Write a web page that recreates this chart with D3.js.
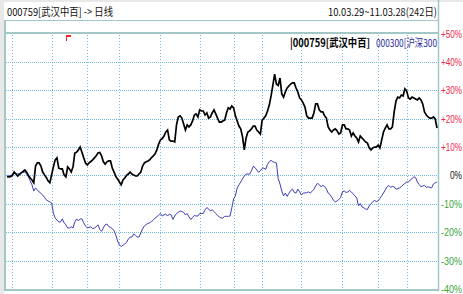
<!DOCTYPE html>
<html lang="zh">
<head>
<meta charset="utf-8">
<title>000759 武汉中百 日线</title>
<script src="https://d3js.org/d3.v7.min.js"></script>
<style>
body { margin: 0; background: #fff; }
svg { display: block; font-family: "Noto Sans CJK SC", "Liberation Sans", sans-serif; }
</style>
</head>
<body>
<script>
// daily change vs. first close, in % (242 trading days)
var stockPct = [
  -0.4,-0.5,-0.4,0,1.2,0.5,-0.2,0.4,0.9,1.4,
  1.9,1.1,0,-0.9,-1.6,-2.6,3.3,4.4,4.4,3.3,
  1.2,0.2,-0.7,-1.9,-2.6,0.2,3.0,5.5,6.2,2.6,
  2.3,2.3,0.2,-0.5,3.0,2.3,1.2,3.0,7.9,8.2,
  9.0,10.0,8.2,6.2,4.4,3.7,4.4,4.9,5.5,6.2,
  6.9,7.9,8.1,6.9,4.8,4.0,4.8,5.1,5.1,2.6,
  1.2,-0.4,-1.2,-2.3,-3.3,-1.6,-0.9,0,0.5,1.2,
  0.5,0.2,-0.2,-0.2,0.5,1.2,3.3,4.4,4.8,5.1,
  5.5,6.3,6.9,7.6,9.0,11.1,12.5,13.0,13.9,15.3,
  16.0,12.5,12.1,12.1,11.8,17.8,20.6,21.0,20.2,18.1,
  16.0,17.8,17.1,17.8,19.2,21.3,21.7,20.6,23.1,22.7,
  22.7,21.3,22.0,20.2,20.6,22.0,23.1,21.7,20.2,18.8,
  18.8,19.2,19.5,22.0,23.8,23.4,24.5,23.8,21.0,19.2,
  17.4,16.4,13.6,9.0,13.2,15.3,15.7,16.4,17.4,17.4,
  16.0,15.3,14.6,19.5,20.2,21.0,22.7,24.8,28.0,31.7,
  35.7,32.2,31.7,34.3,28.7,27.6,29.4,30.8,31.5,32.2,
  32.6,32.6,30.8,29.4,27.3,26.6,25.5,24.1,21.0,20.2,
  20.2,20.2,22.0,25.2,25.2,23.1,22.4,22.4,21.0,20.2,
  17.1,16.0,15.3,16.0,16.4,15.7,14.6,15.0,17.8,17.8,
  16.4,16.4,16.0,13.9,15.0,13.9,13.2,11.8,13.9,13.2,
  12.5,11.8,11.4,9.7,9.0,9.7,10.0,10.0,10.7,9.7,
  12.5,15.3,16.7,17.8,16.4,16.4,17.1,22.4,26.2,27.6,
  27.3,28.3,28.0,30.5,29.8,27.3,26.9,27.6,27.3,26.9,
  26.6,27.3,26.6,25.2,22.4,21.3,20.6,20.2,20.2,20.6,
  19.9,16.7
];
var indexPct = [
  -0.2,-0.2,0,0.2,0.7,0.7,0.5,0.7,0.9,1.1,
  1.2,0.5,-0.5,-1.9,-3.3,-5.5,-4.4,-5.1,-5.8,-6.3,
  -6.9,-7.7,-8.6,-9.0,-9.3,-9.7,-13.2,-15.0,-15.7,-16.4,
  -16.4,-15.3,-16.7,-17.4,-18.5,-18.5,-18.1,-18.5,-16.4,-15.3,
  -16.0,-15.3,-15.3,-16.7,-17.8,-18.5,-18.3,-18.1,-18.7,-18.5,
  -18.1,-17.4,-19.0,-19.7,-18.5,-17.4,-17.1,-18.0,-18.3,-18.7,
  -19.5,-21.0,-23.1,-24.5,-25.0,-24.6,-24.1,-23.6,-22.4,-21.7,
  -21.7,-20.6,-21.1,-21.7,-21.7,-20.2,-18.8,-17.8,-17.3,-16.9,
  -16.7,-16.2,-15.7,-15.0,-14.6,-13.9,-13.4,-14.3,-13.9,-13.6,
  -14.3,-13.6,-13.9,-15.5,-14.3,-13.4,-13.0,-12.5,-12.7,-13.0,
  -13.9,-13.4,-14.6,-15.5,-14.8,-14.1,-14.3,-14.3,-13.4,-13.4,
  -13.4,-12.1,-11.3,-11.8,-12.5,-12.1,-12.7,-13.4,-14.1,-14.6,
  -15.0,-15.0,-14.4,-14.4,-14.4,-14.3,-11.4,-8.3,-7.2,-4.4,
  -3.3,-2.3,-1.2,-0.2,0.5,0.5,0.4,1.6,3.2,2.8,
  1.9,1.1,1.6,2.5,2.6,2.1,3.9,4.9,5.3,4.8,
  4.6,4.4,-1.1,-3.0,-5.5,-7.2,-6.2,-7.4,-6.3,-5.3,
  -4.8,-6.0,-6.2,-4.8,-5.8,-6.9,-6.2,-6.2,-6.0,-5.8,
  -6.2,-5.6,-4.9,-3.7,-2.8,-3.2,-4.0,-3.5,-3.9,-4.8,
  -6.2,-6.7,-7.7,-8.8,-9.3,-9.0,-8.5,-7.7,-5.8,-5.5,
  -6.0,-5.8,-5.3,-5.8,-6.5,-7.2,-7.9,-10.7,-9.9,-11.1,
  -11.4,-11.8,-12.0,-10.7,-9.9,-9.3,-8.8,-9.2,-9.0,-8.1,
  -7.2,-6.2,-5.1,-4.0,-3.5,-4.2,-3.9,-4.0,-4.9,-4.6,
  -4.4,-4.0,-3.3,-2.8,-2.3,-2.3,-1.6,-1.1,-0.5,-0.7,
  -2.3,-3.2,-4.0,-3.7,-3.5,-4.2,-4.0,-4.2,-4.4,-3.0,
  -2.6,-2.3
];
// first trading day of each month (index into the series)
var monthStarts = [3, 25, 45, 63, 86, 108, 127, 143, 165, 188, 208, 224];
var yTicks = [50, 40, 30, 20, 10, 0, -10, -20, -30, -40];
var flagDay = 33;

var titleText = "000759[武汉中百] -> 日线";
var rangeText = "10.03.29~11.03.28(242日)";
var stockName = "|000759[武汉中百]";
var indexName = "000300[沪深300";

var w = 463, h = 294;
var frameColor = "#a3c6c6", gridColor = "#74bae0";

var svg = d3.select("body").append("svg")
  .attr("width", w)
  .attr("height", h);

var x = d3.scaleLinear().domain([0, stockPct.length - 1]).range([7, 437]);
var y = d3.scaleLinear().domain([-40, 50]).range([289, 33.5]);

// gray window edges
svg.append("rect").attr("x", 0).attr("y", 0).attr("width", 4).attr("height", h).attr("fill", "#e8e8e8");
svg.append("rect").attr("x", 0).attr("y", 0).attr("width", w).attr("height", 2).attr("fill", "#e8e8e8");

// header
svg.append("text")
  .attr("x", 7).attr("y", 16)
  .attr("font-size", 11)
  .attr("textLength", 106).attr("lengthAdjust", "spacingAndGlyphs")
  .attr("fill", "#111")
  .text(titleText);
svg.append("text")
  .attr("x", 437).attr("y", 16)
  .attr("text-anchor", "end")
  .attr("font-size", 11)
  .attr("textLength", 109).attr("lengthAdjust", "spacingAndGlyphs")
  .attr("fill", "#111")
  .text(rangeText);

// grid
var grid = svg.append("g");
grid.selectAll("line.h")
  .data(yTicks.filter(function(d) { return d < 50 && d > -40; }))
  .enter().append("line")
  .attr("x1", 6).attr("x2", 438)
  .attr("y1", function(d) { return Math.round(y(d)) + 0.5; })
  .attr("y2", function(d) { return Math.round(y(d)) + 0.5; })
  .attr("stroke", gridColor)
  .attr("stroke-dasharray", "1,1");
grid.selectAll("line.v")
  .data(monthStarts)
  .enter().append("line")
  .attr("x1", function(d) { return Math.round(x(d)) + 0.5; })
  .attr("x2", function(d) { return Math.round(x(d)) + 0.5; })
  .attr("y1", 35).attr("y2", 289)
  .attr("stroke", gridColor)
  .attr("stroke-dasharray", "1,2");

// frame
svg.append("line").attr("x1", 5).attr("x2", 439).attr("y1", 20.5).attr("y2", 20.5).attr("stroke", frameColor);
svg.append("line").attr("x1", 5).attr("x2", 439).attr("y1", 33).attr("y2", 33).attr("stroke", frameColor).attr("stroke-width", 2);
svg.append("line").attr("x1", 5).attr("x2", 439).attr("y1", 290).attr("y2", 290).attr("stroke", frameColor).attr("stroke-width", 2);
svg.append("line").attr("x1", 5).attr("x2", 5).attr("y1", 20).attr("y2", 291).attr("stroke", frameColor).attr("stroke-width", 2);
svg.append("line").attr("x1", 438.5).attr("x2", 438.5).attr("y1", 0).attr("y2", 291).attr("stroke", frameColor).attr("stroke-width", 1.5);

// right axis labels
svg.selectAll("text.tick")
  .data(yTicks)
  .enter().append("text")
  .attr("class", "tick")
  .attr("x", 462)
  .attr("y", function(d) { return y(d) + 4; })
  .attr("text-anchor", "end")
  .attr("font-family", "Liberation Sans, sans-serif")
  .attr("font-size", 11)
  .attr("fill", function(d) { return d > 0 ? "#f0284a" : (d < 0 ? "#3aa63a" : "#111"); })
  .attr("textLength", function(d) { return d == 0 ? 12 : 21; })
  .attr("lengthAdjust", "spacingAndGlyphs")
  .text(function(d) { return (d > 0 ? "+" : "") + d + "%"; });

// flag marker
svg.append("line")
  .attr("x1", Math.round(x(flagDay)) + 0.5).attr("x2", Math.round(x(flagDay)) + 0.5)
  .attr("y1", 35).attr("y2", 41)
  .attr("stroke", "#ff2020");
svg.append("rect")
  .attr("x", Math.round(x(flagDay))).attr("y", 35)
  .attr("width", 5).attr("height", 2)
  .attr("fill", "#ff2020");

// series
var line = d3.line()
  .x(function(d, i) { return x(i); })
  .y(function(d) { return y(d); });

svg.append("path")
  .datum(indexPct)
  .attr("d", line)
  .attr("fill", "none")
  .attr("stroke", "#3e3eb8")
  .attr("stroke-width", 1);

svg.append("path")
  .datum(stockPct)
  .attr("d", line)
  .attr("fill", "none")
  .attr("stroke", "#000")
  .attr("stroke-width", 1.7);

// legend
svg.append("text")
  .attr("x", 290).attr("y", 47)
  .attr("font-size", 11).attr("font-weight", "bold")
  .attr("textLength", 80).attr("lengthAdjust", "spacingAndGlyphs")
  .attr("fill", "#000")
  .text(stockName);
svg.append("text")
  .attr("x", 376).attr("y", 47)
  .attr("font-size", 11)
  .attr("textLength", 61).attr("lengthAdjust", "spacingAndGlyphs")
  .attr("fill", "#2a2aa0")
  .text(indexName);
</script>
</body>
</html>
